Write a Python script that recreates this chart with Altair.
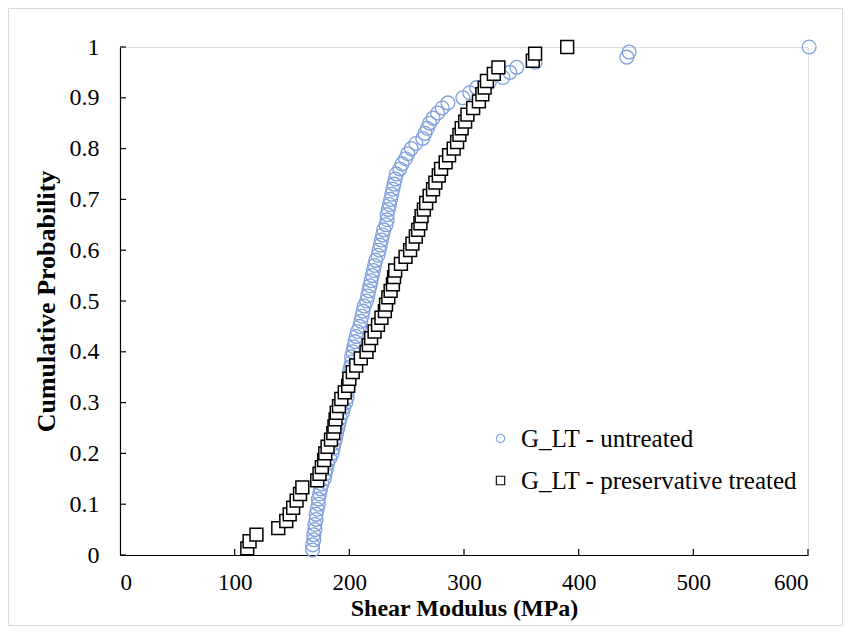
import altair as alt
import pandas as pd

# ---- data ----
untreated_x = [168,168,169,169,170, 170,171,171,172,173, 173,174,175,176,178, 179,180,181,183,185,
               186,187,188,189,190, 191,192,194,195,197, 198,198,199,199,200, 200,201,202,202,203,
               204,205,206,207,209, 210,211,212,213,215, 216,217,218,219,220, 221,222,223,225,226,
               227,228,229,230,232, 233,233,234,235,236, 237,238,239,240,241, 244,246,249,251,254,
               258,264,266,268,270, 273,277,281,286,299, 305,311,322,334,340, 346,362,442,444,601]
untreated_p = [0.01,0.02,0.03,0.04,0.05,0.06,0.07,0.08,0.09,0.10,
               0.11,0.12,0.13,0.14,0.15,0.16,0.17,0.18,0.19,0.20,
               0.21,0.22,0.23,0.24,0.25,0.26,0.27,0.28,0.29,0.30,
               0.31,0.32,0.33,0.34,0.35,0.36,0.37,0.38,0.39,0.40,
               0.41,0.42,0.43,0.44,0.45,0.46,0.47,0.48,0.49,0.50,
               0.51,0.52,0.53,0.54,0.55,0.56,0.57,0.58,0.59,0.60,
               0.61,0.62,0.63,0.64,0.65,0.66,0.67,0.68,0.69,0.70,
               0.71,0.72,0.73,0.74,0.75,0.76,0.77,0.78,0.79,0.80,
               0.81,0.82,0.83,0.84,0.85,0.86,0.87,0.88,0.89,0.90,
               0.91,0.92,0.93,0.94,0.95,0.96,0.97,0.98,0.99,1.00]

treated_x = [111,113,119,138,145, 148,151,154,157,159, 172,174,176,178,179, 181,184,186,187,188,
             189,191,193,196,199, 200,203,206,210,215, 217,219,222,225,228, 231,232,234,236,238,
             239,240,245,249,253, 255,258,260,262,263, 265,267,270,273,275, 278,280,284,287,291,
             294,296,298,301,303, 308,313,316,318,320, 326,330,360,362,390]
treated_p = [0.013,0.027,0.04,0.053,0.067,0.08,0.093,0.107,0.12,0.133,
             0.147,0.16,0.173,0.187,0.2,0.213,0.227,0.24,0.253,0.267,
             0.28,0.293,0.307,0.32,0.333,0.347,0.36,0.373,0.387,0.4,
             0.413,0.427,0.44,0.453,0.467,0.48,0.493,0.507,0.52,0.533,
             0.547,0.56,0.573,0.587,0.6,0.613,0.627,0.64,0.653,0.667,
             0.68,0.693,0.707,0.72,0.733,0.747,0.76,0.773,0.787,0.8,
             0.813,0.827,0.84,0.853,0.867,0.88,0.893,0.907,0.92,0.933,
             0.947,0.96,0.973,0.987,1.0]

series_names = ["G_LT - untreated", "G_LT - preservative treated"]
series_colors = ["#7FA0DD", "#000000"]
series_shapes = ["circle", "square"]

x_ticks = [0, 100, 200, 300, 400, 500, 600]
y_ticks = [0, 0.1, 0.2, 0.3, 0.4, 0.5, 0.6, 0.7, 0.8, 0.9, 1]

W, H = 688, 508
FONT = "Liberation Serif"

df_u = pd.DataFrame({"x": untreated_x, "p": untreated_p, "series": series_names[0]})
df_t = pd.DataFrame({"x": treated_x, "p": treated_p, "series": series_names[1]})

xs = alt.Scale(domain=[0, 600], nice=False, zero=False)
ys = alt.Scale(domain=[0, 1], nice=False)

def make_legend():
    return alt.Legend(title=None, orient="none", legendX=368, legendY=379,
                      labelFont=FONT, labelFontSize=25, labelColor="#000", labelLimit=0,
                      symbolSize=70, symbolStrokeWidth=1.1, symbolFillColor="white",
                      rowPadding=16, labelOffset=8)

stroke_enc = alt.Stroke("series:N", scale=alt.Scale(domain=series_names, range=series_colors),
                        legend=make_legend())
shape_enc = alt.Shape("series:N", scale=alt.Scale(domain=series_names, range=series_shapes),
                      legend=make_legend())

x_axis = alt.Axis(values=x_ticks, format="d", ticks=False, grid=False, domainColor="#000",
                  domainWidth=1.2, labelFont=FONT, labelFontSize=23, labelColor="#000",
                  labelPadding=16, title="Shear Modulus (MPa)", titleFont=FONT,
                  titleFontSize=24, titleFontWeight="bold", titleColor="#000", titlePadding=2)
y_axis = alt.Axis(values=y_ticks, format="~g", ticks=False, grid=False, domainColor="#000",
                  domainWidth=1.2, labelFont=FONT, labelFontSize=24, labelColor="#000",
                  labelPadding=21, title="Cumulative Probability", titleFont=FONT,
                  titleFontSize=26, titleFontWeight="bold", titleColor="#000", titlePadding=10)

circles = alt.Chart(df_u).mark_point(shape="circle", filled=False, size=190, strokeWidth=1.3,
                                     opacity=1).encode(
    x=alt.X("x:Q", scale=xs, axis=x_axis),
    y=alt.Y("p:Q", scale=ys, axis=y_axis),
    stroke=stroke_enc,
    shape=shape_enc,
)

squares = alt.Chart(df_t).mark_point(shape="square", fill="white", fillOpacity=1, size=165,
                                     strokeWidth=1.5, opacity=1).encode(
    x=alt.X("x:Q", scale=xs),
    y=alt.Y("p:Q", scale=ys),
    stroke=stroke_enc,
    shape=shape_enc,
)

# inward tick marks
df_xt = pd.DataFrame({"t": x_ticks[1:]})
df_yt = pd.DataFrame({"t": y_ticks})
xtick_rules = alt.Chart(df_xt).mark_rule(color="#000", strokeWidth=1.2).encode(
    x=alt.X("t:Q", scale=xs), y=alt.value(H), y2=alt.value(H - 6))
ytick_rules = alt.Chart(df_yt).mark_rule(color="#000", strokeWidth=1.2).encode(
    y=alt.Y("t:Q", scale=ys), x=alt.value(0), x2=alt.value(6))

# outer chart-area border
border = alt.Chart(pd.DataFrame({"a": [0]})).mark_rect(
    fill="transparent", stroke="#d9d9d9", strokeWidth=1).encode(
    x=alt.value(-111.5), x2=alt.value(722.5), y=alt.value(-38.5), y2=alt.value(578.5))

chart = alt.layer(border, circles, squares, xtick_rules, ytick_rules).resolve_scale(
    x="shared", y="shared").properties(
    width=W, height=H,
    autosize=alt.AutoSizeParams(type="none"),
    padding={"left": 112, "top": 39, "right": 35, "bottom": 72},
).configure_view(stroke=None).configure(background="white")

chart.save("out.html", embed_options={"renderer": "svg", "actions": False})
